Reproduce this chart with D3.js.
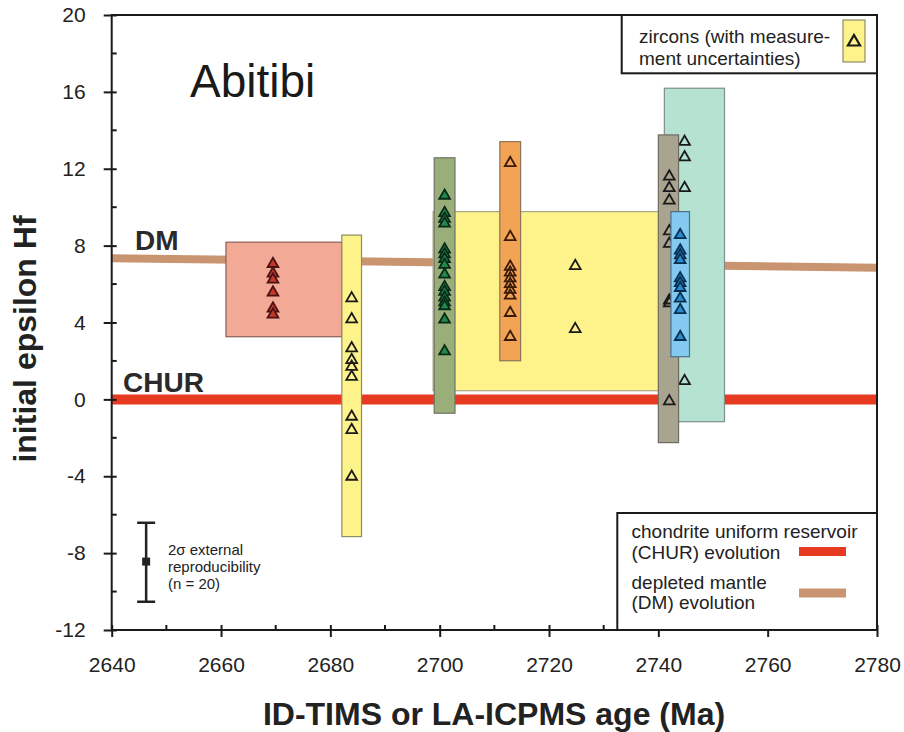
<!DOCTYPE html>
<html><head><meta charset="utf-8">
<script src="https://cdn.jsdelivr.net/npm/d3@7"></script>
<style>body{margin:0;background:#fff}svg{display:block}text{font-family:"Liberation Sans",Arial,Helvetica,sans-serif}</style>
</head><body><svg id="c" width="904" height="732"></svg>
<script>
// ---------- data ----------
const xMajorTicks = [2640, 2660, 2680, 2700, 2720, 2740, 2760, 2780];
const xMinorTicks = [2650, 2670, 2690, 2710, 2730, 2750, 2770];
const yMajorTicks = [-12, -8, -4, 0, 4, 8, 12, 16, 20];
const yMinorTicks = [-10, -6, -2, 2, 6, 10, 14, 18];

// reference lines (age, epsilon Hf)
const churAges = [2640, 2780];
const churEps = [0, 0];
const dmAges = [2640, 2780];
const dmEps = [7.34, 6.85];

// rectangles: population ranges (drawing order)
const boxNames = ["salmon", "yellowBar", "bigYellow", "green", "orange", "mint", "grey", "blue"];
const boxAgeFrom = [2660.9, 2682.1, 2698.8, 2699.0, 2711.0, 2741.1, 2740.0, 2742.3];
const boxAgeTo   = [2682.1, 2685.7, 2751.2, 2702.8, 2714.8, 2752.1, 2743.7, 2745.7];
const boxEpsLow  = [3.26, -7.14, 0.45, -0.72, 2.01, -1.16, -2.25, 2.22];
const boxEpsHigh = [8.18, 8.55, 9.77, 12.57, 13.41, 16.19, 13.76, 9.77];

// zircon analyses
const pointAge = [2669.5, 2683.9, 2724.8, 2700.9, 2712.9, 2744.8, 2742.0, 2744.0];
const salmonEps = [7.05, 6.55, 6.24, 5.56, 4.73, 4.42];
const yellowBarEps = [5.26, 4.17, 2.66, 2.05, 1.7, 1.18, -0.9, -1.59, -4.02];
const bigYellowEps = [6.94, 3.66];
const greenEps = [10.6, 9.7, 9.4, 9.15, 7.8, 7.55, 7.3, 7.0, 6.5, 5.85, 5.6, 5.3, 5.05, 4.85, 4.15, 2.5];
const orangeEps = [12.3, 8.45, 6.9, 6.6, 6.3, 6.0, 5.7, 5.4, 4.5, 3.25];
const mintEps = [13.4, 12.6, 11.0, 0.95];
const greyEps = [11.6, 11.0, 10.35, 8.75, 8.1, 5.15, 5.0, -0.1];
const blueEps = [8.55, 7.75, 7.5, 7.25, 6.3, 6.05, 5.8, 5.25, 4.65, 3.25];
const pointEps = [salmonEps, yellowBarEps, bigYellowEps, greenEps, orangeEps, mintEps, greyEps, blueEps];

// error bar (2 sigma external reproducibility)
const errAge = 2646.3;
const errEps = [-10.53, -8.44, -6.42];

// ---------- styles ----------
const boxStyle = {
  salmon:    {fill: "#f2a996", stroke: "#8a6055"},
  yellowBar: {fill: "#fdf38a", stroke: "#8e8c66"},
  bigYellow: {fill: "#fdf38a", stroke: "#a8a680"},
  green:     {fill: "#9aae7a", stroke: "#6e7266"},
  orange:    {fill: "#f2a354", stroke: "#8c7458"},
  mint:      {fill: "#b6e2d2", stroke: "#7e908a"},
  grey:      {fill: "#a9a48f", stroke: "#6e6a60"},
  blue:      {fill: "#84c9ef", stroke: "#4d6d88"}
};
const triStyle = {
  salmon:    {fill: "#c4382c", stroke: "#4a1212"},
  yellowBar: {fill: "none", stroke: "#1a1a1a"},
  bigYellow: {fill: "none", stroke: "#1a1a1a"},
  green:     {fill: "#1f8a4c", stroke: "#0a2a18"},
  orange:    {fill: "none", stroke: "#3a1a08"},
  mint:      {fill: "none", stroke: "#1a1a1a"},
  grey:      {fill: "none", stroke: "#1a1a1a"},
  blue:      {fill: "#2a8ad2", stroke: "#08304e"}
};
const pointGroupOrder = ["salmon", "yellowBar", "bigYellow", "green", "orange", "mint", "grey", "blue"];

// ---------- chart ----------
const svg = d3.select("#c");
const L = 111.7, R = 877, T = 15, B = 630;
const x = d3.scaleLinear().domain([2640, 2780]).range([L, R]);
const y = d3.scaleLinear().domain([-12, 20]).range([B, T]);

// reference lines
const line = d3.line().x(d => x(d[0])).y(d => y(d[1]));
svg.append("path").datum(d3.zip(dmAges, dmEps)).attr("d", line)
  .attr("stroke", "#c99470").attr("stroke-width", 8).attr("fill", "none");
svg.append("path").datum(d3.zip(churAges, churEps)).attr("d", line)
  .attr("stroke", "#e63b20").attr("stroke-width", 10).attr("fill", "none");

// boxes + triangles, group by group
const tri = d3.symbol().type(d3.symbolTriangle).size(50);
boxNames.forEach((name, i) => {
  svg.append("rect")
    .attr("x", x(boxAgeFrom[i])).attr("y", y(boxEpsHigh[i]))
    .attr("width", x(boxAgeTo[i]) - x(boxAgeFrom[i]))
    .attr("height", y(boxEpsLow[i]) - y(boxEpsHigh[i]))
    .attr("fill", boxStyle[name].fill).attr("stroke", boxStyle[name].stroke).attr("stroke-width", 1.2);
  const gi = pointGroupOrder.indexOf(name);
  svg.append("g").selectAll("path").data(pointEps[gi]).join("path")
    .attr("d", tri)
    .attr("transform", d => `translate(${x(pointAge[gi])},${y(d)})`)
    .attr("fill", triStyle[name].fill).attr("stroke", triStyle[name].stroke).attr("stroke-width", 1.8);
});

// frame
svg.append("rect").attr("x", L).attr("y", T).attr("width", R - L).attr("height", B - T)
  .attr("fill", "none").attr("stroke", "#1a1a1a").attr("stroke-width", 2);

// axes
const fs = "21px";
const fmt = d => String(d);
const yAxis = svg.append("g").attr("transform", `translate(${L},0)`)
  .call(d3.axisLeft(y).tickValues(yMajorTicks).tickSizeInner(8).tickSizeOuter(0).tickPadding(18).tickFormat(fmt));
yAxis.select(".domain").remove();
yAxis.selectAll(".tick line").attr("x1", 5).attr("stroke", "#1a1a1a").attr("stroke-width", 2);
yAxis.selectAll("text").style("font-size", fs).attr("fill", "#222");
svg.append("g").selectAll("line").data(yMinorTicks).join("line")
  .attr("x1", L).attr("x2", L + 5).attr("y1", d => y(d)).attr("y2", d => y(d))
  .attr("stroke", "#1a1a1a").attr("stroke-width", 2);

const xAxis = svg.append("g").attr("transform", `translate(0,${B})`)
  .call(d3.axisBottom(x).tickValues(xMajorTicks).tickSizeInner(7).tickSizeOuter(0).tickPadding(20).tickFormat(fmt));
xAxis.select(".domain").remove();
xAxis.selectAll(".tick line").attr("y1", -5).attr("stroke", "#1a1a1a").attr("stroke-width", 2);
xAxis.selectAll("text").style("font-size", fs).attr("fill", "#222");
svg.append("g").selectAll("line").data(xMinorTicks).join("line")
  .attr("x1", d => x(d)).attr("x2", d => x(d)).attr("y1", B).attr("y2", B - 5)
  .attr("stroke", "#1a1a1a").attr("stroke-width", 2);

// axis titles
svg.append("text").attr("transform", "translate(36,339) rotate(-90)")
  .attr("text-anchor", "middle").style("font-size", "32px").style("font-weight", "bold").attr("fill", "#222")
  .text("initial epsilon Hf");
svg.append("text").attr("x", 494).attr("y", 725)
  .attr("text-anchor", "middle").style("font-size", "32px").style("font-weight", "bold").attr("fill", "#222")
  .text("ID-TIMS or LA-ICPMS age (Ma)");

// labels
svg.append("text").attr("x", 190).attr("y", 97).style("font-size", "46px").attr("fill", "#1a1a1a").text("Abitibi");
svg.append("text").attr("x", 135).attr("y", 250).style("font-size", "28px").style("font-weight", "bold").attr("fill", "#2a2a2a").text("DM");
svg.append("text").attr("x", 123).attr("y", 392).style("font-size", "28px").style("font-weight", "bold").attr("fill", "#2a2a2a").text("CHUR");

// error bar
const ex = x(errAge);
svg.append("line").attr("x1", ex).attr("x2", ex).attr("y1", y(errEps[0])).attr("y2", y(errEps[2])).attr("stroke", "#222").attr("stroke-width", 2.5);
[errEps[0], errEps[2]].forEach(v => svg.append("line").attr("x1", ex - 9).attr("x2", ex + 9).attr("y1", y(v)).attr("y2", y(v)).attr("stroke", "#222").attr("stroke-width", 2.5));
svg.append("rect").attr("x", ex - 4).attr("y", y(errEps[1]) - 4).attr("width", 8).attr("height", 8).attr("fill", "#222");
const et = svg.append("text").style("font-size", "15px").attr("fill", "#222");
et.append("tspan").attr("x", 168).attr("y", 555).text("2σ external");
et.append("tspan").attr("x", 168).attr("y", 572).text("reproducibility");
et.append("tspan").attr("x", 168).attr("y", 589).text("(n = 20)");

// legend top
svg.append("rect").attr("x", 621.7).attr("y", T).attr("width", R - 621.7).attr("height", 58.3)
  .attr("fill", "#fff").attr("stroke", "#1a1a1a").attr("stroke-width", 2);
const lt = svg.append("text").style("font-size", "19px").attr("fill", "#222");
lt.append("tspan").attr("x", 639).attr("y", 43).text("zircons (with measure-");
lt.append("tspan").attr("x", 639).attr("y", 65).text("ment uncertainties)");
svg.append("rect").attr("x", 843).attr("y", 20).attr("width", 22).attr("height", 42)
  .attr("fill", boxStyle.yellowBar.fill).attr("stroke", boxStyle.yellowBar.stroke).attr("stroke-width", 1.2);
svg.append("path").attr("d", d3.symbol().type(d3.symbolTriangle).size(64)).attr("transform", "translate(854,42)")
  .attr("fill", "none").attr("stroke", "#1a1a1a").attr("stroke-width", 2.2);

// legend bottom
svg.append("rect").attr("x", 617.3).attr("y", 513).attr("width", R - 617.3).attr("height", B - 513)
  .attr("fill", "#fff").attr("stroke", "#1a1a1a").attr("stroke-width", 2);
const lb = svg.append("text").style("font-size", "19px").attr("fill", "#222");
lb.append("tspan").attr("x", 631.5).attr("y", 538).text("chondrite uniform reservoir");
lb.append("tspan").attr("x", 631.5).attr("y", 559).text("(CHUR) evolution");
lb.append("tspan").attr("x", 631.5).attr("y", 589).text("depleted mantle");
lb.append("tspan").attr("x", 631.5).attr("y", 609).text("(DM) evolution");
svg.append("rect").attr("x", 799).attr("y", 547).attr("width", 47).attr("height", 9).attr("fill", "#e63b20");
svg.append("rect").attr("x", 799).attr("y", 588.5).attr("width", 47).attr("height", 9).attr("fill", "#c99470");
</script></body></html>
